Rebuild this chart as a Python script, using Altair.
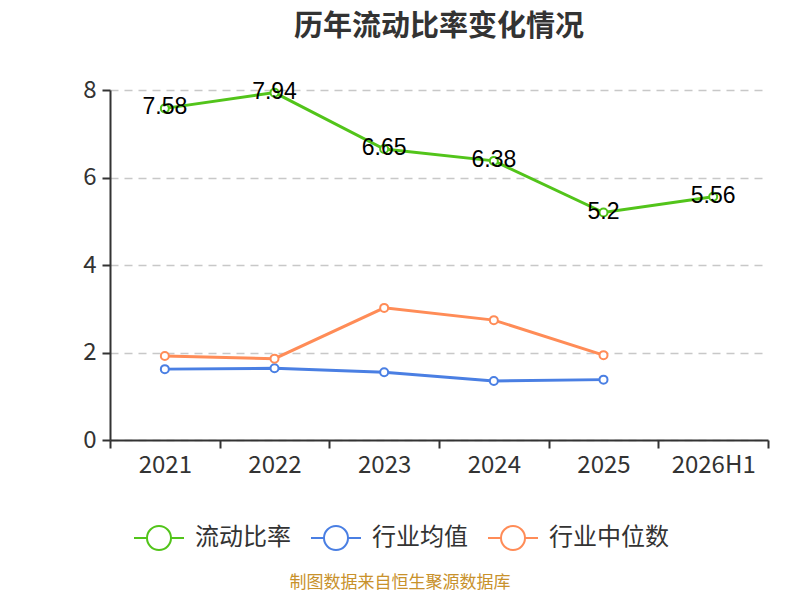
import altair as alt
import pandas as pd

# --- chart data ---
years = ["2021", "2022", "2023", "2024", "2025", "2026H1"]
current_ratio = [7.58, 7.94, 6.65, 6.38, 5.2, 5.56]
industry_avg = [1.62, 1.64, 1.55, 1.35, 1.38]
industry_median = [1.92, 1.86, 3.02, 2.74, 1.94]

series_names = ["流动比率", "行业均值", "行业中位数"]
series_colors = ["#52C41A", "#4A7FE3", "#FF8C57"]
source_note = "制图数据来自恒生聚源数据库"

rows = []
for name, vals in zip(series_names, [current_ratio, industry_avg, industry_median]):
    for yr, v in zip(years, vals):
        rows.append({"year": yr, "value": v, "series": name})
df = pd.DataFrame(rows)

FONT = "Noto Sans CJK SC"
# legend symbol: short line, hollow circle, short line
legend_symbol = ("M-1,0L-0.48,0M0.48,0L1,0"
                 "M-0.48,0A0.48,0.48,0,1,1,0.48,0A0.48,0.48,0,1,1,-0.48,0Z")

x_enc = alt.X(
    "year:N",
    sort=years,
    scale=alt.Scale(domain=years, paddingInner=0, paddingOuter=0),
    axis=alt.Axis(
        title=None, labelAngle=0, tickBand="extent", grid=False,
        labelFontSize=24, labelColor="#333", labelPadding=5,
        tickSize=8, tickColor="#333", domainColor="#333", domainWidth=2, tickWidth=2,
    ),
)
y_enc = alt.Y(
    "value:Q",
    scale=alt.Scale(domain=[0, 8], nice=False),
    axis=alt.Axis(
        title=None, values=[0, 2, 4, 6, 8], labelFontSize=24, labelColor="#333",
        labelPadding=6, tickSize=8, tickColor="#333", domainColor="#333",
        domainWidth=2, tickWidth=2, grid=True, gridColor="#c8c8c8",
        gridDash=[8, 6], gridWidth=1.5,
    ),
)
color_enc = alt.Color(
    "series:N",
    scale=alt.Scale(domain=series_names, range=series_colors),
    legend=alt.Legend(
        title=None, orient="none", direction="horizontal",
        legendX=23, legendY=422, symbolType=legend_symbol, symbolSize=2500,
        symbolStrokeWidth=2, symbolFillColor="white", labelFontSize=24,
        labelColor="#333", labelFont=FONT, labelOffset=10, columnPadding=16,
        padding=0,
    ),
)

base = alt.Chart(df)

lines = base.mark_line(strokeWidth=3).encode(x=x_enc, y=y_enc, color=color_enc)

points = base.mark_point(
    filled=True, fill="white", size=64, strokeWidth=2, opacity=1
).encode(x=x_enc, y=y_enc, stroke=alt.Stroke("series:N",
                                             scale=alt.Scale(domain=series_names, range=series_colors),
                                             legend=None))

labels = base.transform_filter(alt.datum.series == "流动比率").mark_text(
    fontSize=23, color="black", baseline="middle", dy=-1, font="Liberation Sans"
).encode(x=x_enc, y=y_enc, text=alt.Text("value:Q"))

note = alt.Chart(pd.DataFrame({"t": [source_note]})).mark_text(
    fontSize=17, color="#C8912B", font=FONT, align="center", baseline="middle"
).encode(text="t:N", x=alt.value(290), y=alt.value(493))

chart = (
    alt.layer(lines, points, labels, note)
    .properties(
        width=658,
        height=350,
        autosize=alt.AutoSizeParams(type="none"),
        padding={"left": 102, "top": 82, "right": 24, "bottom": 152},
        title=alt.TitleParams(
            "历年流动比率变化情况", anchor="middle", fontSize=29, font=FONT,
            fontWeight="bold", color="#333", offset=36,
        ),
    )
    .configure(font=FONT)
    .configure_view(stroke="transparent", strokeWidth=0)
)

chart.save("out.html", embed_options={"renderer": "svg", "actions": False})
